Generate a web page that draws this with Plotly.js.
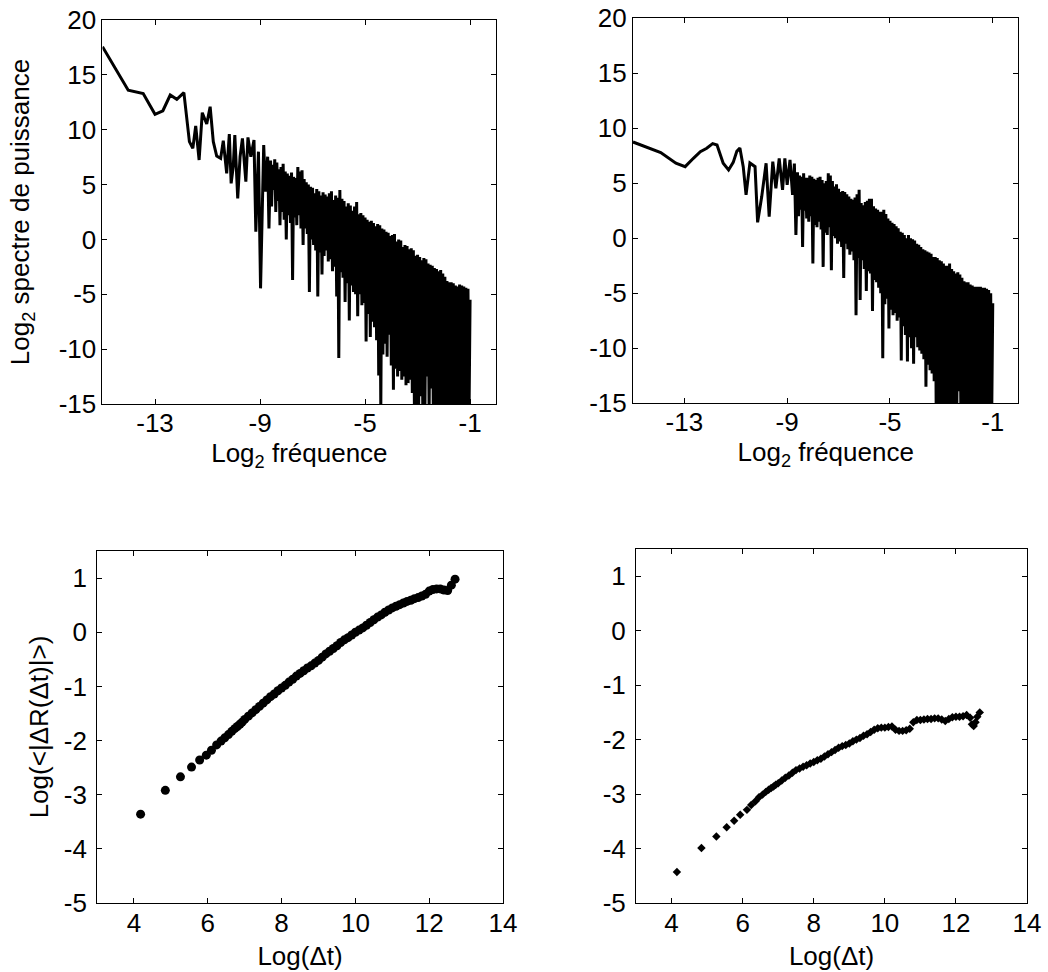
<!DOCTYPE html>
<html><head><meta charset="utf-8">
<script src="https://cdn.plot.ly/plotly-3.0.1.min.js"></script>
<style>html,body{margin:0;padding:0;background:#fff}#chart{width:1048px;height:972px}</style>
</head><body><div id="chart"></div>
<script>
// ---- Top-left spectrum (low-frequency part, read point by point) ----
const freqSparseL = [-15.0, -14.02, -13.45, -13.0, -12.70, -12.42, -12.17, -11.90, -11.69, -11.56, -11.45, -11.32, -11.20, -11.03, -10.90, -10.78, -10.65, -10.50, -10.40, -10.27, -10.17, -10.10, -10.02, -9.96, -9.85, -9.76, -9.67, -9.54, -9.46, -9.35, -9.23, -9.16, -9.06, -8.98, -8.86, -8.79, -8.71, -8.66];
const powSparseL = [17.57, 13.6, 13.3, 11.4, 11.73, 13.16, 12.77, 13.38, 8.91, 8.30, 10.34, 7.24, 11.55, 10.52, 12.1, 8.91, 7.6, 7.39, 9.0, 6.02, 9.6, 5.11, 6.63, 9.52, 3.74, 7.54, 9.21, 5.26, 9.3, 7.54, 9.06, 0.7, 8.0, -4.46, 8.6, 4.35, 7.54, 1.0];

// ---- Top-right spectrum (low-frequency part) ----
const freqSparseR = [-15.0, -13.92, -13.33, -12.97, -12.65, -12.38, -12.13, -11.90, -11.73, -11.49, -11.28, -11.10, -10.96, -10.84, -10.71, -10.60, -10.45, -10.25, -10.15, -9.99, -9.82, -9.70, -9.56, -9.44, -9.31, -9.18, -9.09, -9.00, -8.89, -8.79, -8.72, -8.66];
const powSparseR = [8.75, 7.8, 6.82, 6.51, 7.27, 7.87, 8.18, 8.6, 8.48, 6.82, 6.21, 6.9, 7.9, 8.2, 6.51, 3.94, 6.85, 6.51, 1.45, 3.79, 6.82, 1.97, 6.97, 4.55, 7.27, 4.40, 7.27, 4.85, 7.12, 3.94, 6.8, 0.3];

// ---- High-frequency part (dense), shared frequency samples ----
const freqDense = [
-8.60, -8.56, -8.52, -8.48, -8.44, -8.40, -8.36, -8.32, -8.28, -8.24,
-8.20, -8.16, -8.12, -8.08, -8.04, -8.00, -7.96, -7.92, -7.88, -7.84,
-7.80, -7.76, -7.72, -7.68, -7.64, -7.60, -7.56, -7.52, -7.48, -7.44,
-7.40, -7.36, -7.32, -7.28, -7.24, -7.20, -7.16, -7.12, -7.08, -7.04,
-7.00, -6.96, -6.92, -6.88, -6.84, -6.80, -6.76, -6.72, -6.68, -6.64,
-6.60, -6.56, -6.52, -6.48, -6.44, -6.40, -6.36, -6.32, -6.28, -6.24,
-6.20, -6.16, -6.12, -6.08, -6.04, -6.00, -5.96, -5.92, -5.88, -5.84,
-5.80, -5.76, -5.72, -5.68, -5.64, -5.60, -5.56, -5.52, -5.48, -5.44,
-5.40, -5.36, -5.32, -5.28, -5.24, -5.20, -5.16, -5.12, -5.08, -5.04,
-5.00, -4.96, -4.92, -4.88, -4.84, -4.80, -4.76, -4.72, -4.68, -4.64,
-4.60, -4.56, -4.52, -4.48, -4.44, -4.40, -4.36, -4.32, -4.28, -4.24,
-4.20, -4.16, -4.12, -4.08, -4.04, -4.00, -3.96, -3.92, -3.88, -3.84,
-3.80, -3.76, -3.72, -3.68, -3.64, -3.60, -3.56, -3.52, -3.48, -3.44,
-3.40, -3.36, -3.32, -3.28, -3.24, -3.20, -3.16, -3.12, -3.08, -3.04,
-3.00, -2.96, -2.92, -2.88, -2.84, -2.80, -2.76, -2.72, -2.68, -2.64,
-2.60, -2.56, -2.52, -2.48, -2.44, -2.40, -2.36, -2.32, -2.28, -2.24,
-2.20, -2.16, -2.12, -2.08, -2.04, -2.00, -1.96, -1.92, -1.88, -1.84,
-1.80, -1.76, -1.72, -1.68, -1.64, -1.60, -1.56, -1.52, -1.48, -1.44,
-1.40, -1.36, -1.32, -1.28, -1.24, -1.20, -1.16, -1.12, -1.08, -1.04,
-1.00];

const powDenseL = [
7.2, 3.0, 6.8, 4.5, 7.3, 2.5, 7.0, 3.5, 6.4, 1.3,
6.6, 2.5, 6.9, 1.8, 6.2, 0.0, 6.0, 2.2, 5.8, 1.5,
6.1, -3.7, 5.7, 2.0, 5.6, 1.3, 6.6, 2.2, 6.2, 1.0,
6.3, -0.5, 5.5, 1.0, 5.2, 0.5, 5.0, -4.8, 4.8, 0.0,
4.7, -0.5, 4.2, -1.0, 4.6, -5.2, 4.4, -1.2, 4.0, -3.2,
4.3, -1.5, 4.1, -1.0, 3.9, -2.0, 4.2, -1.8, 4.4, -2.9,
3.6, -2.5, 4.0, -5.2, 3.8, -10.8, 4.5, -3.0, 3.7, -3.5,
3.5, -5.7, 3.0, -4.0, 3.3, -7.4, 3.1, -4.2, 2.6, -4.8,
3.0, -5.0, 3.4, -7.0, 2.3, -5.0, 2.4, -6.0, 2.2, -5.8,
2.0, -9.3, 1.8, -6.8, 1.6, -8.9, 1.7, -7.5, 1.5, -8.0,
1.2, -9.2, 1.4, -12.4, 1.3, -15.5, 1.0, -10.5, 0.9, -9.5,
0.7, -10.7, 0.6, -8.7, 0.3, -11.5, 0.4, -13.7, 0.5, -11.8,
-0.2, -12.5, 0.0, -12.0, -0.1, -12.8, -0.7, -12.5, -0.5, -13.3,
-0.6, -13.1, -0.9, -12.8, -0.8, -14.0, -1.0, -15.5, -1.5, -16,
-1.4, -16, -1.6, -14.3, -1.9, -16, -1.7, -16, -1.8, -12.5,
-2.2, -16, -2.3, -13.6, -2.4, -16, -2.6, -16, -2.7, -16,
-2.9, -16, -2.8, -16, -3.1, -16, -3.4, -16, -3.8, -16,
-3.9, -16, -3.9, -16, -4.0, -16, -4.2, -16, -4.3, -16,
-4.1, -16, -4.2, -16, -4.3, -16, -4.4, -16, -4.5, -16,
-5.5];

const powDenseR = [
6.0, 2.0, 5.7, 2.6, 5.6, -0.8, 5.9, 2.5, 5.5, 1.8,
5.5, 1.5, 5.7, 2.0, 5.6, -2.3, 5.4, 1.2, 5.3, 1.0,
5.5, 1.5, 5.6, 0.8, 5.3, -2.6, 5.0, 0.5, 5.2, 0.3,
5.9, 1.0, 5.7, -2.9, 5.2, 0.2, 4.7, 0.0, 4.9, -0.5,
4.5, -0.3, 4.2, -0.8, 4.3, -3.6, 4.2, -0.5, 4.0, -1.0,
3.8, -1.5, 3.6, -1.2, 3.5, -2.0, 3.7, -7.0, 4.0, -1.8,
4.4, -5.6, 3.2, -2.0, 3.0, -2.8, 3.3, -4.8, 3.4, -3.0,
3.6, -3.2, 3.6, -6.6, 2.9, -3.8, 2.7, -4.0, 2.6, -4.5,
2.4, -5.0, 2.4, -10.9, 2.6, -6.0, 2.2, -5.5, 1.8, -8.2,
1.6, -6.5, 1.4, -7.0, 1.3, -6.8, 1.1, -7.5, 0.9, -7.2,
0.6, -11.1, 0.5, -8.0, 0.3, -8.8, 0.0, -11.2, 0.3, -9.0,
0.0, -10.0, -0.1, -11.4, -0.2, -9.0, -0.5, -9.9, -0.6, -10.2,
-0.8, -10.5, -1.0, -11.0, -1.1, -13.5, -1.2, -11.5, -1.3, -12.0,
-1.4, -12.3, -1.7, -13.0, -1.7, -16, -1.8, -16, -2.0, -16,
-2.1, -16, -2.3, -16, -2.5, -16, -2.5, -16, -2.3, -16,
-2.8, -16, -3.0, -16, -3.2, -16, -3.1, -13.9, -3.3, -16,
-3.6, -16, -3.9, -16, -4.0, -16, -4.0, -16, -4.2, -16,
-4.3, -16, -4.4, -16, -4.4, -16, -4.4, -16, -4.4, -16,
-4.5, -16, -4.5, -16, -4.6, -16, -4.7, -16, -5.0, -16,
-5.9];

// ---- Bottom-left: Log(<|dR(dt)|>) vs Log(dt) ----
const dtL = [4.18, 4.85, 5.26, 5.56, 5.78, 5.96, 6.10, 6.24, 6.36, 6.46, 6.56, 6.65, 6.73, 6.80, 6.87, 6.93,
7.0, 7.1, 7.2, 7.3, 7.4, 7.5, 7.6, 7.7, 7.8, 7.9,
8.0, 8.1, 8.2, 8.3, 8.4, 8.5, 8.6, 8.7, 8.8, 8.9,
9.0, 9.1, 9.2, 9.3, 9.4, 9.5, 9.6, 9.7, 9.8, 9.9,
10.0, 10.1, 10.2, 10.3, 10.4, 10.5, 10.6, 10.7, 10.8, 10.9,
11.0, 11.1, 11.2, 11.3, 11.4, 11.5, 11.6, 11.7, 11.8, 11.9,
12.0, 12.1, 12.2, 12.3, 12.4, 12.5, 12.6, 12.7];
const devL = [-3.36, -2.92, -2.67, -2.49, -2.36, -2.27, -2.18, -2.08, -2.01, -1.95, -1.89, -1.83, -1.78, -1.74, -1.70, -1.66,
-1.61, -1.55, -1.49, -1.43, -1.37, -1.31, -1.25, -1.19, -1.14, -1.08,
-1.03, -0.98, -0.92, -0.87, -0.81, -0.76, -0.71, -0.66, -0.62, -0.57,
-0.52, -0.46, -0.40, -0.35, -0.30, -0.25, -0.19, -0.14, -0.10, -0.05,
0.00, 0.04, 0.08, 0.13, 0.18, 0.23, 0.28, 0.32, 0.37, 0.41,
0.45, 0.48, 0.51, 0.54, 0.57, 0.59, 0.62, 0.64, 0.67, 0.70,
0.76, 0.79, 0.80, 0.80, 0.78, 0.77, 0.87, 0.98];

// ---- Bottom-right ----
const dtR = [4.15, 4.84, 5.26, 5.55, 5.76, 5.93, 6.12, 6.24, 6.36, 6.46, 6.56, 6.65, 6.73, 6.80, 6.87, 6.93,
7.0, 7.1, 7.2, 7.3, 7.4, 7.5, 7.6, 7.7, 7.8, 7.9,
8.0, 8.1, 8.2, 8.3, 8.4, 8.5, 8.6, 8.7, 8.8, 8.9,
9.0, 9.1, 9.2, 9.3, 9.4, 9.5, 9.6, 9.7, 9.8, 9.9,
10.0, 10.1, 10.2, 10.3, 10.4, 10.5, 10.6, 10.7, 10.8, 10.9,
11.0, 11.1, 11.2, 11.3, 11.4, 11.5, 11.6, 11.7, 11.8, 11.9,
12.0, 12.1, 12.2, 12.3, 12.4, 12.45, 12.5, 12.55, 12.6, 12.67];
const devR = [-4.43, -3.99, -3.78, -3.61, -3.49, -3.38, -3.29, -3.20, -3.13, -3.06, -3.01, -2.96, -2.92, -2.89, -2.86, -2.83,
-2.80, -2.75, -2.70, -2.66, -2.61, -2.56, -2.53, -2.50, -2.47, -2.44,
-2.41, -2.38, -2.35, -2.31, -2.27, -2.23, -2.19, -2.15, -2.12, -2.10,
-2.07, -2.03, -2.00, -1.97, -1.93, -1.90, -1.86, -1.82, -1.79, -1.78,
-1.78, -1.77, -1.76, -1.82, -1.84, -1.84, -1.83, -1.80, -1.68, -1.64,
-1.64, -1.63, -1.62, -1.62, -1.61, -1.61, -1.63, -1.66, -1.62, -1.59,
-1.58, -1.58, -1.57, -1.55, -1.60, -1.72, -1.75, -1.68, -1.58, -1.50];

// ---- Tick labels ----
const freqTicks = [-13, -9, -5, -1];
const freqTickText = ['-13', '-9', '-5', '-1'];
const powTicks = [-15, -10, -5, 0, 5, 10, 15, 20];
const powTickText = ['-15', '-10', '-5', '0', '5', '10', '15', '20'];
const dtTicks = [4, 6, 8, 10, 12, 14];
const dtTickText = ['4', '6', '8', '10', '12', '14'];
const devTicks = [-5, -4, -3, -2, -1, 0, 1];
const devTickText = ['-5', '-4', '-3', '-2', '-1', '0', '1'];

const FONT = 'Liberation Sans, Arial, Helvetica, sans-serif';
const tickFont = {family: FONT, size: 26, color: '#000'};
const titleFont = {family: FONT, size: 26, color: '#000'};

function axis(extra) {
  return Object.assign({
    showline: true, linecolor: '#000', linewidth: 1, mirror: 'ticks',
    ticks: 'inside', ticklen: 5, tickwidth: 1, tickcolor: '#000',
    showgrid: false, zeroline: false, tickfont: tickFont,
    fixedrange: true, automargin: false
  }, extra);
}

const traces = [
  {x: freqSparseL.concat(freqDense), y: powSparseL.concat(powDenseL), xaxis: 'x', yaxis: 'y',
   mode: 'lines', line: {color: '#000', width: 3, simplify: false}, hoverinfo: 'skip'},
  {x: freqSparseR.concat(freqDense), y: powSparseR.concat(powDenseR), xaxis: 'x2', yaxis: 'y2',
   mode: 'lines', line: {color: '#000', width: 3, simplify: false}, hoverinfo: 'skip'},
  {x: dtL, y: devL, xaxis: 'x3', yaxis: 'y3', mode: 'markers',
   marker: {symbol: 'circle', size: 9, color: '#000'}, hoverinfo: 'skip'},
  {x: dtR, y: devR, xaxis: 'x4', yaxis: 'y4', mode: 'markers',
   marker: {symbol: 'diamond', size: 6.5, color: '#000'}, hoverinfo: 'skip'}
];

const layout = {
  width: 1048, height: 972,
  margin: {l: 0, r: 0, t: 0, b: 0},
  paper_bgcolor: '#fff', plot_bgcolor: '#fff',
  showlegend: false,
  font: {family: FONT, size: 26, color: '#000'},
  xaxis: axis({domain: [0.0978, 0.4736], range: [-15, 0], tickvals: freqTicks, ticktext: freqTickText, anchor: 'y',
    ticklabelstandoff: -4,
    title: {text: 'Log<sub>2</sub> fréquence', font: titleFont, standoff: 0}}),
  yaxis: axis({domain: [0.5844, 0.9794], range: [-15, 20], tickvals: powTicks, ticktext: powTickText, anchor: 'x',
    title: {text: 'Log<sub>2</sub> spectre de puissance', font: titleFont, standoff: 21}}),
  xaxis2: axis({domain: [0.6040, 0.9718], range: [-15, 0], tickvals: freqTicks, ticktext: freqTickText, anchor: 'y2',
    ticklabelstandoff: -4,
    title: {text: 'Log<sub>2</sub> fréquence', font: titleFont, standoff: 0}}),
  yaxis2: axis({domain: [0.5851, 0.9812], range: [-15, 20], tickvals: powTicks, ticktext: powTickText, anchor: 'x2'}),
  xaxis3: axis({domain: [0.0926, 0.4800], range: [3, 14], tickvals: dtTicks, ticktext: dtTickText, anchor: 'y3',
    ticklabelstandoff: -3,
    title: {text: 'Log(Δt)', font: titleFont, standoff: 9}}),
  yaxis3: axis({domain: [0.0710, 0.4331], range: [-5, 1.5], tickvals: devTicks, ticktext: devTickText, anchor: 'x3',
    ticklabelstandoff: 4,
    title: {text: 'Log(&lt;|ΔR(Δt)|&gt;)', font: titleFont, standoff: 7}}),
  xaxis4: axis({domain: [0.6069, 0.9800], range: [3, 14], tickvals: dtTicks, ticktext: dtTickText, anchor: 'y4',
    ticklabelstandoff: -3,
    title: {text: 'Log(Δt)', font: titleFont, standoff: 9}}),
  yaxis4: axis({domain: [0.0710, 0.4352], range: [-5, 1.5], tickvals: devTicks, ticktext: devTickText, anchor: 'x4',
    ticklabelstandoff: 4})
};

Plotly.newPlot('chart', traces, layout, {displayModeBar: false, staticPlot: true});
</script></body></html>
